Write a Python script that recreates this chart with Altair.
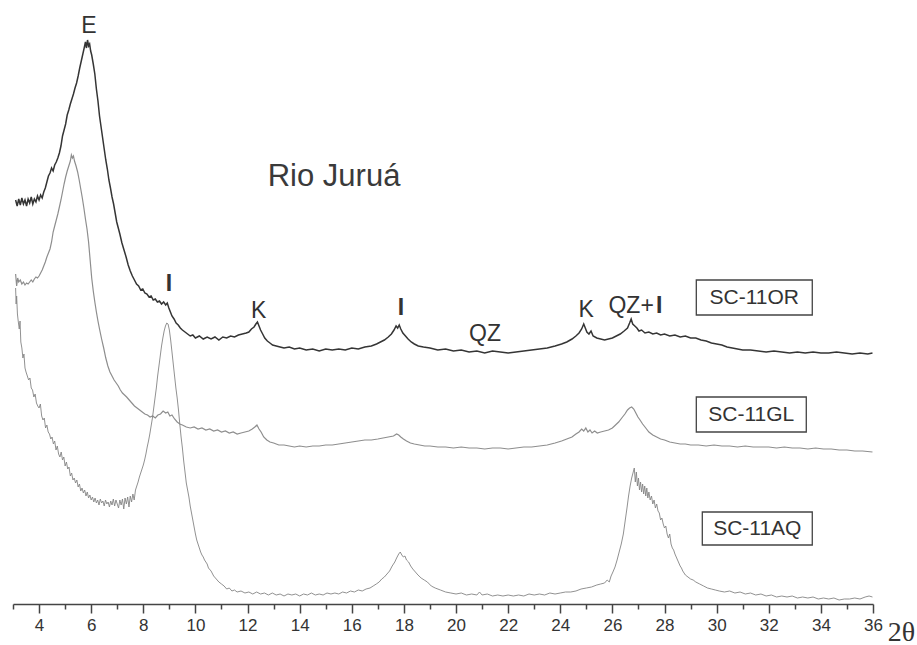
import altair as alt
import pandas as pd

# ---- data (2theta in degrees, intensity in arbitrary units) ----
or_pts = [
    (3.10, 404), (3.16, 398), (3.22, 405), (3.28, 399), (3.34, 406), (3.40, 400), (3.46, 404), (3.52, 398),
    (3.58, 405), (3.64, 401), (3.70, 407), (3.76, 400), (3.82, 405), (3.88, 402), (3.94, 408), (4.00, 404),
    (4.06, 409), (4.12, 406), (4.18, 412), (4.24, 416), (4.30, 422), (4.36, 428), (4.42, 431), (4.48, 436),
    (4.54, 433), (4.60, 439), (4.66, 442), (4.72, 446), (4.78, 451), (4.84, 458), (4.90, 468), (4.96, 474),
    (5.02, 480), (5.08, 489), (5.14, 494), (5.20, 500), (5.26, 505), (5.32, 510), (5.38, 516), (5.44, 521),
    (5.50, 528), (5.56, 536), (5.62, 543), (5.68, 550), (5.74, 557), (5.78, 562), (5.82, 556), (5.86, 564),
    (5.90, 558), (5.94, 560), (5.98, 553), (6.02, 549), (6.08, 540), (6.14, 530), (6.20, 515), (6.26, 503),
    (6.32, 488), (6.38, 477), (6.44, 466), (6.50, 455), (6.56, 444), (6.62, 435), (6.68, 424), (6.74, 416),
    (6.80, 407), (6.86, 400), (6.92, 391), (6.98, 382), (7.04, 376), (7.10, 370), (7.18, 361), (7.26, 354),
    (7.34, 347), (7.42, 339), (7.50, 333), (7.58, 328), (7.66, 324), (7.74, 320), (7.82, 318), (7.90, 314),
    (7.98, 315), (8.06, 311), (8.14, 310), (8.22, 307), (8.30, 308), (8.38, 304), (8.46, 305), (8.54, 302),
    (8.62, 303), (8.70, 300), (8.78, 302), (8.86, 299), (8.92, 301), (8.98, 296), (9.04, 292), (9.10, 288),
    (9.18, 285), (9.26, 281), (9.34, 279), (9.42, 276), (9.50, 274), (9.60, 272), (9.70, 270), (9.80, 268),
    (9.90, 269), (10.00, 266), (10.15, 268), (10.30, 265), (10.45, 267), (10.60, 265), (10.75, 267), (10.90, 264),
    (11.05, 267), (11.20, 266), (11.35, 268), (11.50, 267), (11.65, 269), (11.80, 270), (11.95, 271), (12.05, 272),
    (12.15, 275), (12.25, 277), (12.32, 280), (12.38, 282), (12.44, 278), (12.50, 274), (12.58, 270), (12.66, 266),
    (12.76, 263), (12.86, 261), (12.96, 259), (13.10, 258), (13.25, 257), (13.40, 256), (13.60, 257), (13.80, 255),
    (14.00, 256), (14.25, 254), (14.50, 255), (14.75, 253), (15.00, 255), (15.25, 254), (15.50, 255), (15.75, 254),
    (16.00, 256), (16.25, 255), (16.50, 257), (16.75, 258), (16.95, 260), (17.10, 262), (17.25, 264), (17.40, 267),
    (17.52, 270), (17.62, 274), (17.70, 278), (17.76, 276), (17.82, 279), (17.88, 275), (17.96, 271), (18.06, 268),
    (18.16, 265), (18.28, 262), (18.40, 260), (18.55, 258), (18.75, 257), (19.00, 256), (19.30, 254), (19.60, 255),
    (19.90, 253), (20.20, 254), (20.50, 252), (20.80, 253), (21.10, 251), (21.40, 253), (21.70, 252), (22.00, 251),
    (22.30, 252), (22.60, 253), (22.90, 254), (23.20, 255), (23.50, 256), (23.80, 258), (24.05, 260), (24.25, 262),
    (24.45, 265), (24.60, 268), (24.72, 271), (24.82, 275), (24.90, 280), (24.96, 276), (25.02, 272), (25.10, 270),
    (25.18, 273), (25.26, 268), (25.40, 266), (25.55, 265), (25.70, 264), (25.85, 265), (26.00, 266), (26.15, 268),
    (26.30, 270), (26.45, 273), (26.58, 276), (26.66, 281), (26.72, 285), (26.78, 280), (26.86, 278), (26.94, 276),
    (27.02, 273), (27.12, 274), (27.25, 271), (27.40, 272), (27.55, 270), (27.70, 271), (27.85, 269), (28.00, 270),
    (28.20, 268), (28.40, 269), (28.60, 267), (28.80, 268), (29.00, 266), (29.20, 266), (29.40, 264), (29.60, 263),
    (29.80, 261), (30.00, 260), (30.20, 259), (30.40, 257), (30.60, 256), (30.80, 255), (31.00, 254), (31.30, 254),
    (31.60, 253), (31.90, 252), (32.20, 253), (32.50, 252), (32.80, 251), (33.10, 252), (33.40, 251), (33.70, 252),
    (34.00, 251), (34.30, 251), (34.60, 252), (34.90, 251), (35.20, 250), (35.50, 251), (35.80, 250), (35.98, 251),
]

gl_pts = [
    (3.10, 330), (3.14, 318), (3.18, 326), (3.22, 322), (3.28, 324), (3.34, 320), (3.40, 322), (3.46, 319),
    (3.52, 321), (3.58, 320), (3.64, 322), (3.70, 324), (3.76, 322), (3.82, 325), (3.88, 327), (3.94, 326),
    (4.00, 328), (4.06, 331), (4.12, 334), (4.18, 338), (4.24, 342), (4.30, 347), (4.36, 351), (4.42, 355),
    (4.48, 362), (4.54, 372), (4.60, 378), (4.66, 384), (4.72, 390), (4.78, 397), (4.84, 404), (4.90, 412),
    (4.96, 420), (5.02, 427), (5.08, 433), (5.14, 438), (5.20, 443), (5.24, 449), (5.28, 446), (5.32, 448),
    (5.36, 443), (5.42, 438), (5.48, 432), (5.54, 424), (5.60, 415), (5.66, 406), (5.72, 396), (5.78, 385),
    (5.84, 375), (5.90, 362), (5.96, 344), (6.02, 326), (6.08, 313), (6.14, 302), (6.20, 292), (6.26, 283),
    (6.32, 275), (6.40, 265), (6.48, 256), (6.56, 246), (6.64, 238), (6.72, 232), (6.80, 228), (6.88, 224),
    (6.96, 221), (7.04, 218), (7.12, 214), (7.20, 211), (7.28, 209), (7.36, 207), (7.46, 204), (7.56, 201),
    (7.66, 198), (7.76, 196), (7.86, 194), (7.96, 192), (8.06, 190), (8.16, 189), (8.26, 187), (8.36, 188),
    (8.46, 186), (8.56, 189), (8.66, 190), (8.76, 193), (8.86, 191), (8.94, 192), (9.02, 188), (9.10, 189),
    (9.20, 185), (9.30, 182), (9.40, 180), (9.50, 179), (9.65, 177), (9.80, 176), (9.95, 177), (10.10, 175),
    (10.25, 176), (10.40, 174), (10.55, 175), (10.70, 173), (10.85, 174), (11.00, 172), (11.15, 173), (11.30, 171),
    (11.45, 172), (11.60, 170), (11.75, 171), (11.90, 172), (12.05, 173), (12.18, 175), (12.28, 177), (12.36, 179),
    (12.44, 175), (12.52, 172), (12.62, 167), (12.74, 164), (12.86, 162), (13.00, 161), (13.20, 159), (13.40, 159),
    (13.60, 158), (13.80, 157), (14.00, 158), (14.25, 157), (14.50, 158), (14.75, 158), (15.00, 159), (15.25, 159),
    (15.50, 160), (15.75, 161), (16.00, 162), (16.25, 163), (16.50, 164), (16.75, 164), (17.00, 165), (17.20, 166),
    (17.40, 167), (17.60, 168), (17.72, 170), (17.80, 169), (17.88, 167), (17.98, 165), (18.10, 163), (18.25, 161),
    (18.40, 160), (18.60, 159), (18.80, 158), (19.00, 158), (19.30, 157), (19.60, 157), (19.90, 156), (20.20, 157),
    (20.50, 156), (20.80, 156), (21.10, 155), (21.40, 156), (21.70, 156), (22.00, 155), (22.30, 156), (22.60, 157),
    (22.90, 157), (23.20, 158), (23.50, 159), (23.80, 161), (24.05, 163), (24.25, 165), (24.45, 167), (24.60, 170),
    (24.72, 172), (24.82, 175), (24.90, 173), (24.98, 176), (25.06, 172), (25.14, 174), (25.22, 171), (25.32, 173),
    (25.42, 171), (25.55, 172), (25.70, 173), (25.85, 174), (26.00, 176), (26.12, 179), (26.24, 182), (26.36, 186),
    (26.48, 190), (26.58, 194), (26.66, 196), (26.74, 197), (26.82, 195), (26.90, 191), (26.98, 187), (27.06, 184),
    (27.16, 180), (27.28, 176), (27.40, 172), (27.55, 169), (27.70, 167), (27.85, 165), (28.00, 164), (28.20, 162),
    (28.40, 161), (28.60, 160), (28.80, 160), (29.00, 159), (29.30, 159), (29.60, 158), (29.90, 159), (30.20, 158),
    (30.50, 158), (30.80, 157), (31.10, 158), (31.40, 157), (31.70, 157), (32.00, 157), (32.30, 156), (32.60, 157),
    (32.90, 156), (33.20, 156), (33.50, 155), (33.80, 156), (34.10, 155), (34.40, 155), (34.70, 154), (35.00, 154),
    (35.30, 153), (35.60, 153), (35.98, 152),
]

aq_pts = [
    (3.10, 316), (3.12, 300), (3.14, 308), (3.17, 290), (3.20, 283), (3.24, 275), (3.27, 283), (3.30, 262),
    (3.34, 256), (3.38, 246), (3.42, 250), (3.46, 236), (3.50, 232), (3.55, 228), (3.60, 224), (3.65, 226),
    (3.70, 216), (3.75, 214), (3.80, 207), (3.85, 210), (3.90, 201), (3.95, 198), (4.00, 196), (4.05, 200),
    (4.10, 188), (4.15, 184), (4.20, 186), (4.25, 176), (4.30, 179), (4.35, 172), (4.40, 170), (4.45, 165),
    (4.50, 167), (4.55, 160), (4.60, 163), (4.65, 154), (4.70, 158), (4.75, 150), (4.80, 147), (4.85, 152),
    (4.90, 144), (4.95, 147), (5.00, 138), (5.05, 142), (5.10, 135), (5.15, 137), (5.20, 128), (5.25, 131),
    (5.30, 124), (5.35, 126), (5.40, 121), (5.45, 124), (5.50, 117), (5.55, 120), (5.60, 113), (5.65, 116),
    (5.70, 111), (5.75, 114), (5.80, 108), (5.85, 112), (5.90, 106), (5.95, 109), (6.00, 104), (6.05, 107),
    (6.10, 102), (6.15, 106), (6.20, 101), (6.25, 104), (6.30, 99), (6.35, 105), (6.40, 101), (6.45, 103),
    (6.50, 98), (6.55, 104), (6.60, 100), (6.65, 102), (6.70, 97), (6.75, 103), (6.80, 99), (6.85, 105),
    (6.90, 98), (6.95, 104), (7.00, 100), (7.05, 96), (7.10, 104), (7.15, 99), (7.20, 105), (7.25, 95),
    (7.30, 106), (7.35, 100), (7.40, 107), (7.45, 97), (7.50, 108), (7.55, 102), (7.60, 110), (7.65, 104),
    (7.70, 114), (7.75, 118), (7.80, 122), (7.85, 127), (7.90, 131), (7.95, 135), (8.00, 139), (8.05, 144),
    (8.10, 150), (8.15, 157), (8.20, 163), (8.25, 170), (8.30, 178), (8.35, 186), (8.40, 196), (8.45, 206),
    (8.50, 216), (8.55, 228), (8.60, 238), (8.65, 248), (8.70, 258), (8.75, 266), (8.80, 273), (8.85, 278),
    (8.90, 281), (8.95, 280), (9.00, 274), (9.05, 264), (9.10, 252), (9.15, 240), (9.20, 228), (9.25, 216),
    (9.30, 206), (9.35, 194), (9.40, 180), (9.45, 167), (9.50, 156), (9.55, 143), (9.60, 132), (9.65, 121),
    (9.70, 114), (9.75, 107), (9.80, 98), (9.85, 91), (9.90, 84), (9.95, 77), (10.00, 70), (10.05, 64),
    (10.10, 60), (10.15, 56), (10.20, 52), (10.25, 49), (10.30, 47), (10.35, 44), (10.40, 42), (10.45, 40),
    (10.50, 36), (10.60, 33), (10.70, 28), (10.80, 25), (10.90, 22), (11.00, 20), (11.10, 18), (11.20, 15),
    (11.30, 16), (11.40, 13), (11.50, 14), (11.60, 12), (11.75, 13), (11.90, 11), (12.05, 12), (12.20, 10),
    (12.35, 12), (12.50, 10), (12.65, 11), (12.80, 9), (12.95, 11), (13.10, 9), (13.25, 10), (13.40, 8),
    (13.55, 10), (13.70, 9), (13.85, 10), (14.00, 8), (14.15, 10), (14.30, 9), (14.45, 11), (14.60, 9),
    (14.75, 10), (14.90, 9), (15.05, 11), (15.20, 10), (15.35, 11), (15.50, 10), (15.65, 12), (15.80, 11),
    (15.95, 13), (16.10, 12), (16.25, 14), (16.40, 13), (16.55, 15), (16.70, 16), (16.82, 18), (16.94, 20),
    (17.05, 22), (17.15, 25), (17.25, 27), (17.35, 30), (17.45, 33), (17.55, 38), (17.65, 42), (17.72, 46),
    (17.80, 50), (17.86, 52), (17.92, 49), (17.98, 47), (18.04, 48), (18.10, 44), (18.18, 42), (18.26, 38),
    (18.34, 35), (18.44, 32), (18.54, 29), (18.66, 26), (18.78, 24), (18.90, 22), (19.05, 18), (19.20, 16),
    (19.40, 14), (19.60, 12), (19.80, 11), (20.00, 10), (20.20, 11), (20.40, 9), (20.60, 10), (20.80, 9),
    (20.90, 12), (21.00, 9), (21.20, 10), (21.40, 8), (21.60, 9), (21.80, 8), (22.00, 9), (22.20, 8),
    (22.40, 9), (22.60, 8), (22.80, 10), (23.00, 9), (23.20, 10), (23.40, 9), (23.60, 11), (23.80, 10),
    (24.00, 11), (24.20, 12), (24.40, 12), (24.60, 13), (24.80, 15), (25.00, 16), (25.20, 17), (25.40, 19),
    (25.55, 20), (25.70, 21), (25.80, 24), (25.88, 22), (25.95, 28), (26.02, 32), (26.10, 37), (26.18, 44),
    (26.26, 52), (26.34, 60), (26.42, 70), (26.50, 85), (26.56, 96), (26.62, 108), (26.68, 118), (26.74, 126),
    (26.80, 132), (26.84, 136), (26.88, 122), (26.92, 132), (26.96, 118), (27.00, 126), (27.04, 114), (27.08, 122),
    (27.12, 112), (27.16, 120), (27.20, 110), (27.24, 118), (27.28, 108), (27.32, 116), (27.36, 106), (27.40, 112),
    (27.45, 104), (27.50, 108), (27.55, 100), (27.60, 104), (27.65, 96), (27.70, 100), (27.75, 93), (27.80, 91),
    (27.85, 84), (27.90, 86), (27.95, 80), (28.00, 76), (28.05, 78), (28.10, 70), (28.15, 66), (28.20, 70),
    (28.25, 60), (28.30, 56), (28.35, 54), (28.40, 50), (28.45, 47), (28.50, 44), (28.55, 41), (28.60, 38),
    (28.65, 36), (28.70, 33), (28.80, 29), (28.90, 27), (29.00, 25), (29.10, 24), (29.20, 22), (29.35, 20),
    (29.50, 18), (29.65, 16), (29.80, 15), (29.95, 14), (30.10, 13), (30.30, 12), (30.50, 13), (30.70, 11),
    (30.90, 12), (31.10, 10), (31.30, 11), (31.50, 9), (31.70, 10), (31.90, 8), (32.10, 9), (32.30, 7),
    (32.50, 8), (32.70, 7), (32.90, 8), (33.10, 6), (33.30, 7), (33.50, 6), (33.70, 7), (33.90, 5),
    (34.10, 6), (34.30, 5), (34.50, 6), (34.70, 4), (34.90, 5), (35.10, 5), (35.30, 6), (35.50, 5),
    (35.70, 7), (35.85, 8), (35.98, 7),
]

samples = ["SC-11OR", "SC-11GL", "SC-11AQ"]
sample_colors = ["#353535", "#8e8e8e", "#858585"]
sample_widths = [1.5, 0.9, 0.9]

# sample name boxes: (name, x_left, x_right, y_bottom, y_top)
boxes = [
    ("SC-11OR", 29.22, 33.67, 289, 324),
    ("SC-11GL", 29.22, 33.44, 172, 207),
    ("SC-11AQ", 29.45, 33.67, 59, 92),
]

# peak / phase annotations: (text, 2theta, intensity)
peak_labels = [
    ("E", 5.91, 578),
    ("K", 12.43, 293),
    ("QZ", 21.11, 270),
    ("K", 24.99, 294),
    ("QZ+", 26.72, 298),
]
bold_labels = [
    ("I", 8.98, 320),
    ("I", 17.89, 296),
    ("I", 27.80, 298),
]
title_text = [("Rio Juruá", 15.32, 427)]

major_ticks = [4, 6, 8, 10, 12, 14, 16, 18, 20, 22, 24, 26, 28, 30, 32, 34, 36]
minor_ticks = [3, 5, 7, 9, 11, 13, 15, 17, 19, 21, 23, 25, 27, 29, 31, 33, 35]

# ---- build tables ----
rows = []
for name, pts in zip(samples, [or_pts, gl_pts, aq_pts]):
    for i, (x, y) in enumerate(pts):
        rows.append({"sample": name, "two_theta": x, "intensity": y, "order": i})
df = pd.DataFrame(rows)

box_df = pd.DataFrame(boxes, columns=["name", "x1", "x2", "y1", "y2"])
box_df["xc"] = (box_df["x1"] + box_df["x2"]) / 2
box_df["yc"] = (box_df["y1"] + box_df["y2"]) / 2
lab_df = pd.DataFrame(peak_labels, columns=["text", "x", "y"])
bold_df = pd.DataFrame(bold_labels, columns=["text", "x", "y"])
ttl_df = pd.DataFrame(title_text, columns=["text", "x", "y"])
minor_df = pd.DataFrame({"tick": minor_ticks, "base": [0] * len(minor_ticks)})

xscale = alt.Scale(domain=[3, 36], nice=False, zero=False)
yscale = alt.Scale(domain=[0, 604], nice=False, zero=False)

major_axis = alt.Axis(
    orient="bottom",
    values=major_ticks,
    tickSize=9,
    tickColor="#444444",
    tickWidth=1.5,
    domainColor="#444444",
    domainWidth=1.6,
    labelFont="Liberation Sans",
    labelFontSize=17,
    labelColor="#333333",
    labelPadding=4,
    labelOverlap=False,
    labelFlush=False,
    grid=False,
    title="2θ",
    titleFont="Liberation Serif",
    titleFontSize=28,
    titleFontWeight="normal",
    titleColor="#333333",
    titleX=888,
    titleY=28,
    titleAlign="center",
    titleBaseline="middle",
)
minor_axis = alt.Axis(
    orient="bottom",
    values=minor_ticks,
    tickSize=5,
    tickColor="#444444",
    tickWidth=1.5,
    domain=False,
    labels=False,
    grid=False,
    title=None,
)

lines = alt.Chart(df).mark_line(interpolate="linear").encode(
    x=alt.X("two_theta:Q", scale=xscale, axis=major_axis),
    y=alt.Y("intensity:Q", scale=yscale, axis=None),
    color=alt.Color("sample:N", scale=alt.Scale(domain=samples, range=sample_colors), legend=None),
    strokeWidth=alt.StrokeWidth("sample:N", scale=alt.Scale(domain=samples, range=sample_widths), legend=None),
    order="order:Q",
)

minor_layer = alt.Chart(minor_df).mark_point(opacity=0).encode(
    x=alt.X("tick:Q", scale=xscale, axis=minor_axis),
    y=alt.Y("base:Q", scale=yscale, axis=None),
)

rects = alt.Chart(box_df).mark_rect(fillOpacity=0, stroke="#444444", strokeWidth=1.3).encode(
    x=alt.X("x1:Q", scale=xscale, axis=None), x2="x2:Q",
    y=alt.Y("y1:Q", scale=yscale, axis=None), y2="y2:Q",
)
box_text = alt.Chart(box_df).mark_text(font="Liberation Sans", fontSize=21, color="#333333").encode(
    x=alt.X("xc:Q", scale=xscale, axis=None), y=alt.Y("yc:Q", scale=yscale, axis=None), text="name:N"
)
peak_text = alt.Chart(lab_df).mark_text(font="Liberation Sans", fontSize=23, color="#333333").encode(
    x=alt.X("x:Q", scale=xscale, axis=None), y=alt.Y("y:Q", scale=yscale, axis=None), text="text:N"
)
bold_text = alt.Chart(bold_df).mark_text(font="Liberation Sans", fontSize=23, fontWeight="bold", color="#333333").encode(
    x=alt.X("x:Q", scale=xscale, axis=None), y=alt.Y("y:Q", scale=yscale, axis=None), text="text:N"
)
ttl = alt.Chart(ttl_df).mark_text(font="Liberation Sans", fontSize=31, color="#3a3a3a").encode(
    x=alt.X("x:Q", scale=xscale, axis=None), y=alt.Y("y:Q", scale=yscale, axis=None), text="text:N"
)

chart = alt.layer(lines, minor_layer, rects, box_text, peak_text, bold_text, ttl).resolve_axis(
    x="independent"
).properties(
    width=860,
    height=604,
    padding={"left": 13, "top": 0, "right": 44, "bottom": 41},
    autosize=alt.AutoSizeParams(type="none"),
    background="white",
).configure_view(stroke=None)

chart.save("out.html", embed_options={"renderer": "svg", "actions": False})
